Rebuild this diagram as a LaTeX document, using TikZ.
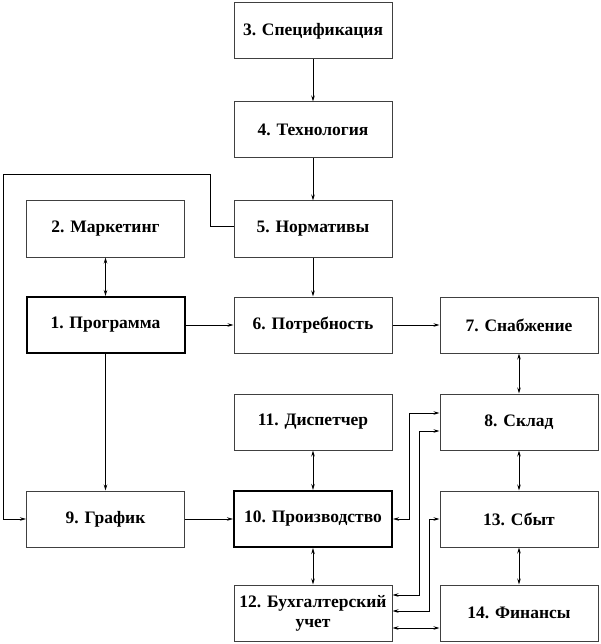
\documentclass[tikz,border=0pt]{standalone}
\usepackage{fontspec}
\setmainfont{Liberation Serif}
\usetikzlibrary{arrows.meta, positioning}

\begin{document}
\begin{tikzpicture}[
  x=1pt, y=-1pt,
  font=\fontsize{17.5}{20}\selectfont\bfseries,
  stepbox/.style={minimum width=158pt, minimum height=56pt, align=center, draw=black!75, line width=1pt, inner sep=2pt},
  mainbox/.style={stepbox, draw=black, line width=2pt},
  arrow/.style={-{Stealth[length=6pt,width=3.5pt]}, line width=0.8pt},
  biarrow/.style={{Stealth[length=6pt,width=3.5pt]}-{Stealth[length=6pt,width=3.5pt]}, line width=0.8pt}
]
  \useasboundingbox (0,0) rectangle (601,644);

  \node[stepbox] (spec)   at (313,31)    {3. Спецификация};
  \node[stepbox] (tech)   at (313,130)   {4. Технология};
  \node[stepbox] (norm)   at (313,229)   {5. Нормативы};
  \node[stepbox] (market) at (105.5,229) {2. Маркетинг};
  \node[mainbox] (prog)   at (105.5,325) {1. Программа};
  \node[stepbox] (need)   at (313,325)   {6. Потребность};
  \node[stepbox] (supply) at (519,325)   {7. Снабжение};
  \node[stepbox] (disp)   at (313,422)   {11. Диспетчер};
  \node[stepbox] (store)  at (519,422)   {8. Склад};
  \node[stepbox] (sched)  at (105.5,519) {9. График};
  \node[mainbox] (prod)   at (313,519)   {10. Производство};
  \node[stepbox] (sales)  at (519,519)   {13. Сбыт};
  \node[stepbox] (acct)   at (313,613)   {12. Бухгалтерский\\учет};
  \node[stepbox] (fin)    at (519,613)   {14. Финансы};

  \draw[arrow] (spec) -- (tech);
  \draw[arrow] (tech) -- (norm);
  \draw[arrow] (norm) -- (need);
  \draw[biarrow] (market) -- (prog);
  \draw[arrow] (prog) -- (need);
  \draw[arrow] (prog) -- (sched);
  \draw[arrow] (need) -- (supply);
  \draw[biarrow] (supply) -- (store);
  \draw[biarrow] (store) -- (sales);
  \draw[biarrow] (sales) -- (fin);
  \draw[biarrow] (disp) -- (prod);
  \draw[biarrow] (prod) -- (acct);
  \draw[arrow] (sched) -- (prod);
  \draw[arrow] ([yshift=3pt]norm.west) -- (210,226) |- (3,174) |- (sched.west);
  \draw[biarrow] ([yshift=9pt]store.west) -- (409,413) |- (prod.east);
  \draw[biarrow] ([yshift=-9pt]store.west) -- (419,431) |- ([yshift=18pt]acct.east);
  \draw[biarrow] (sales.west) -- (429,519) |- ([yshift=2pt]acct.east);
  \draw[biarrow] ([yshift=-15pt]acct.east) -- ([yshift=-15pt]fin.west);
\end{tikzpicture}
\end{document}
